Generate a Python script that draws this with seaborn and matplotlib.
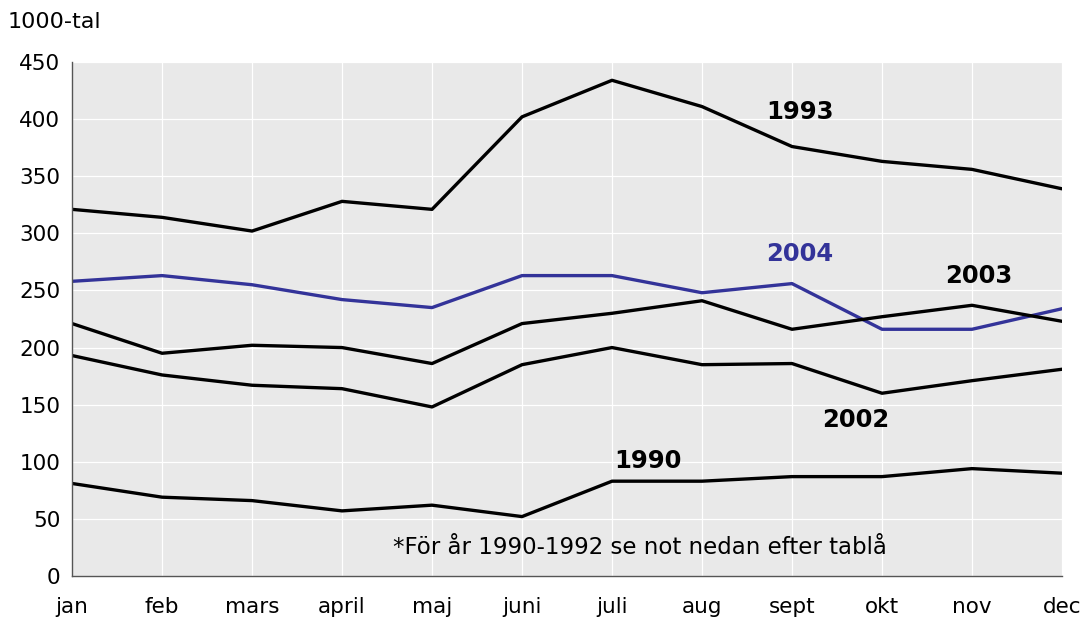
import pandas as pd
import seaborn as sns
import matplotlib.pyplot as plt

months = ['jan', 'feb', 'mars', 'april', 'maj', 'juni', 'juli', 'aug', 'sept', 'okt', 'nov', 'dec']
y1993 = [321, 314, 302, 328, 321, 402, 434, 411, 376, 363, 356, 339]
y2004 = [258, 263, 255, 242, 235, 263, 263, 248, 256, 216, 216, 234]
y2003 = [221, 195, 202, 200, 186, 221, 230, 241, 216, 227, 237, 223]
y2002 = [193, 176, 167, 164, 148, 185, 200, 185, 186, 160, 171, 181]
y1990 = [81, 69, 66, 57, 62, 52, 83, 83, 87, 87, 94, 90]

series = {'1993': y1993, '2004': y2004, '2003': y2003, '2002': y2002, '1990': y1990}
colors = {'1993': 'black', '2004': '#333399', '2003': 'black', '2002': 'black', '1990': 'black'}

sns.set_style('white')
plt.rcParams['font.family'] = ['DejaVu Sans']
plt.rcParams['text.color'] = 'black'

fig = plt.figure(figsize=(10.85, 6.19), dpi=100)
ax = fig.add_axes([0.0664, 0.0695, 0.9124, 0.8303])
ax.set_facecolor('#e9e9e9')

x = list(range(len(months)))
for name, vals in series.items():
    df = pd.DataFrame({'x': x, 'y': vals})
    sns.lineplot(data=df, x='x', y='y', ax=ax, color=colors[name], linewidth=2.4)

ax.set_xlim(0, 11)
ax.set_ylim(0, 450)
ax.set_yticks(range(0, 451, 50))
ax.set_xticks(x)
ax.set_xticklabels(months)
ax.grid(True, color='white', linewidth=0.9)
ax.set_axisbelow(True)
ax.set_xlabel('')
ax.set_ylabel('')
for s in ['top', 'right']:
    ax.spines[s].set_visible(False)
for s in ['left', 'bottom']:
    ax.spines[s].set_color('#555555')
    ax.spines[s].set_linewidth(1)
ax.tick_params(axis='both', which='both', direction='out', length=5, color='#555555',
               labelsize=15.5, labelcolor='black')
ax.tick_params(axis='x', pad=10)

# series labels
bold = dict(fontsize=17.5, fontweight='bold', ha='center', va='center')
ax.text(8.09, 406, '1993', color='black', **bold)
ax.text(8.09, 282, '2004', color='#333399', **bold)
ax.text(10.07, 263, '2003', color='black', **bold)
ax.text(8.71, 137, '2002', color='black', **bold)
ax.text(6.4, 101, '1990', color='black', **bold)
ax.text(6.31, 24.5, '*För år 1990-1992 se not nedan efter tablå', fontsize=16.5,
        ha='center', va='center', color='black')

fig.text(0.007, 0.965, '1000-tal', fontsize=16, ha='left', va='center', color='black')

plt.savefig('out.png', dpi=100)
